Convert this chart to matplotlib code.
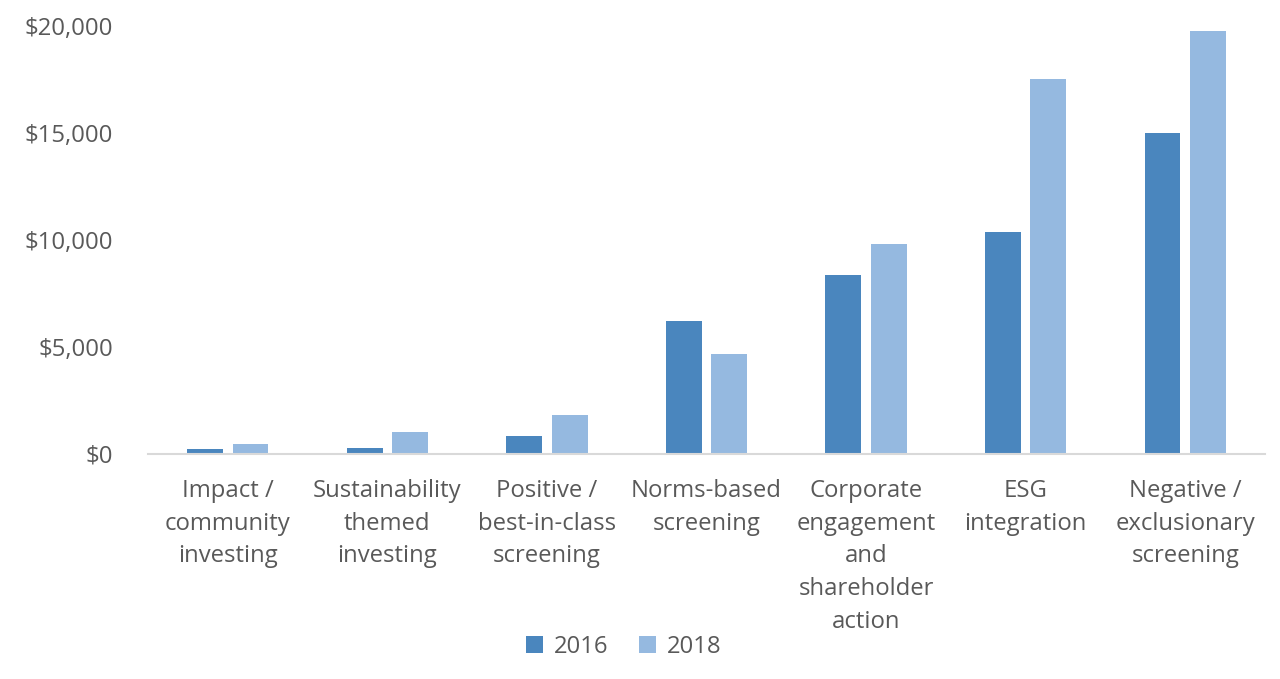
import numpy as np
import matplotlib
matplotlib.use('Agg')
import matplotlib.pyplot as plt
from matplotlib.ticker import FuncFormatter

categories = ['Impact /\ncommunity\ninvesting',
              'Sustainability\nthemed\ninvesting',
              'Positive /\nbest-in-class\nscreening',
              'Norms-based\nscreening',
              'Corporate\nengagement\nand\nshareholder\naction',
              'ESG\nintegration',
              'Negative /\nexclusionary\nscreening']
values_2016 = [248, 276, 818, 6210, 8385, 10353, 15023]
values_2018 = [444, 1018, 1842, 4679, 9835, 17544, 19771]
y_ticks = [0, 5000, 10000, 15000, 20000]

color_2016 = '#4A86BE'
color_2018 = '#95B9E0'
text_color = '#595959'

plt.rcParams['font.family'] = ['Open Sans', 'DejaVu Sans']

fig = plt.figure(figsize=(12.8, 6.79), dpi=100)
ax = fig.add_axes([0.1156, 0.3314, 0.8727, 0.6303])

x = np.arange(len(categories))
width = 0.225
gap = 0.03
ax.bar(x - width / 2 - gap, values_2016, width, color=color_2016, label='2016')
ax.bar(x + width / 2 + gap, values_2018, width, color=color_2018, label='2018')

ax.set_xlim(-0.5, len(categories) - 0.5)
ax.set_ylim(0, 20000)
ax.set_yticks(y_ticks)
ax.yaxis.set_major_formatter(FuncFormatter(lambda v, p: f'${v:,.0f}'))
ax.set_xticks(x)
ax.set_xticklabels(categories, linespacing=1.48)

for s in ['top', 'right', 'left']:
    ax.spines[s].set_visible(False)
ax.spines['bottom'].set_color('#D9D9D9')
ax.spines['bottom'].set_linewidth(1.5)
ax.tick_params(axis='both', length=0, labelsize=17.2, colors=text_color)
ax.tick_params(axis='y', pad=25)
ax.tick_params(axis='x', pad=18)

leg = ax.legend(loc='center', ncol=2, frameon=False, fontsize=17.2,
                handlelength=0.7, handleheight=0.7,
                columnspacing=1.3, handletextpad=0.45)
leg.set_bbox_to_anchor((624 / 1280, 1 - 647 / 679), transform=fig.transFigure)
for t in leg.get_texts():
    t.set_color(text_color)

fig.savefig('out.png', dpi=100)
